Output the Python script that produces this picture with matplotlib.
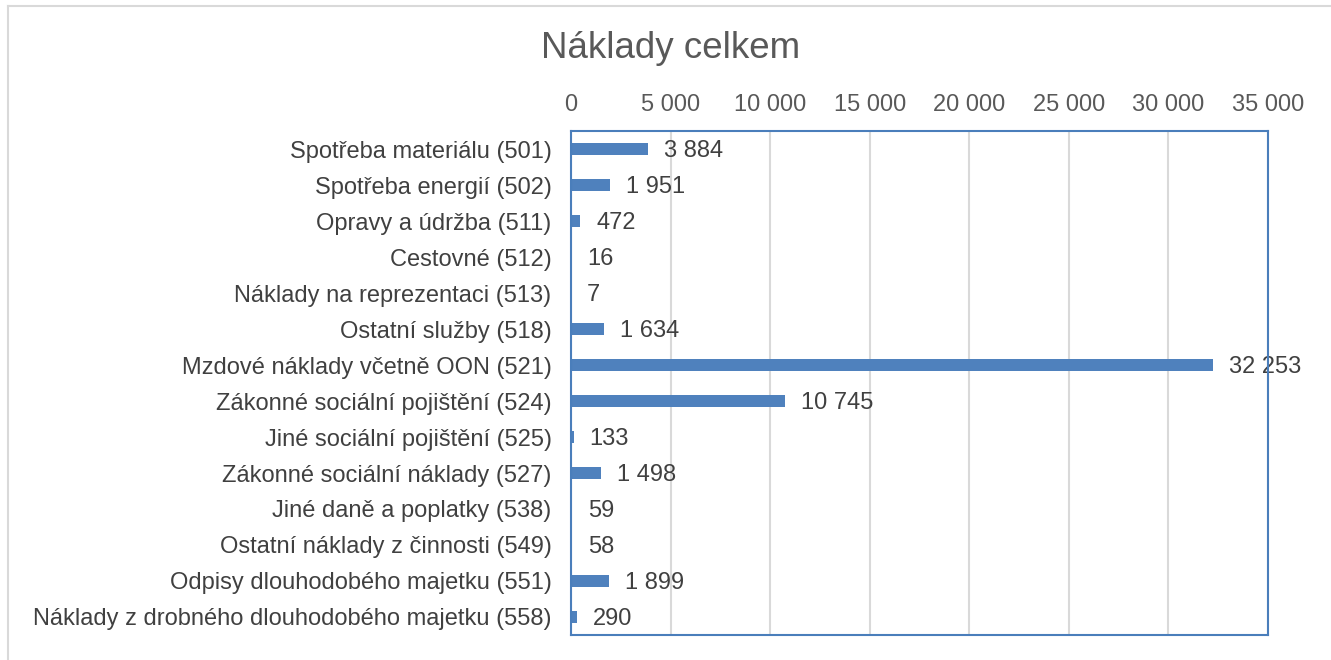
import numpy as np
import matplotlib
matplotlib.use('Agg')
from matplotlib import pyplot as plt
from matplotlib.ticker import FuncFormatter

categories = ['Spotřeba materiálu (501)', 'Spotřeba energií (502)', 'Opravy a údržba (511)',
              'Cestovné (512)', 'Náklady na reprezentaci (513)', 'Ostatní služby (518)',
              'Mzdové náklady včetně OON (521)', 'Zákonné sociální pojištění (524)',
              'Jiné sociální pojištění (525)', 'Zákonné sociální náklady (527)',
              'Jiné daně a poplatky (538)', 'Ostatní náklady z činnosti (549)',
              'Odpisy dlouhodobého majetku (551)', 'Náklady z drobného dlouhodobého majetku (558)']
values = [3884, 1951, 472, 16, 7, 1634, 32253, 10745, 133, 1498, 59, 58, 1899, 290]
xticks = [0, 5000, 10000, 15000, 20000, 25000, 30000, 35000]

plt.rcParams['font.family'] = ['Liberation Sans', 'DejaVu Sans']

def fmt(v):
    return f'{int(v):,}'.replace(',', ' ')

fig = plt.figure(figsize=(13.31, 6.6), dpi=100)
ax = fig.add_axes([571/1331, 1-635/660, (1268-571)/1331, (635-131)/660])

y = np.arange(len(categories))
ax.barh(y, values, height=0.33, color='#4F81BD', zorder=3)
for yi, v in zip(y, values):
    ax.annotate(fmt(v), (v, yi), xytext=(11.5, -1.5), textcoords='offset points',
                va='center', ha='left', fontsize=17, color='#404040', zorder=2)

ax.set_xlim(0, 35000)
ax.set_ylim(len(categories) - 0.5, -0.5)
ax.set_xticks(xticks)
ax.xaxis.set_major_formatter(FuncFormatter(lambda v, p: fmt(v)))
ax.xaxis.tick_top()
ax.set_yticks(y)
ax.set_yticklabels(categories)
ax.tick_params(axis='x', length=0, pad=11, labelsize=17, labelcolor='#595959')
ax.tick_params(axis='y', length=0, pad=14, labelsize=17, labelcolor='#404040')
ax.grid(axis='x', color='#D9D9D9', linewidth=1.5, zorder=0)
for s in ax.spines.values():
    s.set_color('#4A7EBB')
    s.set_linewidth(1.5)
    s.set_zorder(4)

fig.text(671/1331, 1-49/660, 'Náklady celkem', ha='center', va='center',
         fontsize=26.5, color='#595959')

# outer chart border
fig.add_artist(plt.Line2D([8/1331, 8/1331], [0, 1-6/660], color='#D9D9D9', lw=1.5))
fig.add_artist(plt.Line2D([8/1331, 1], [1-6/660, 1-6/660], color='#D9D9D9', lw=1.5))

fig.savefig('out.png', dpi=100, facecolor='white')
